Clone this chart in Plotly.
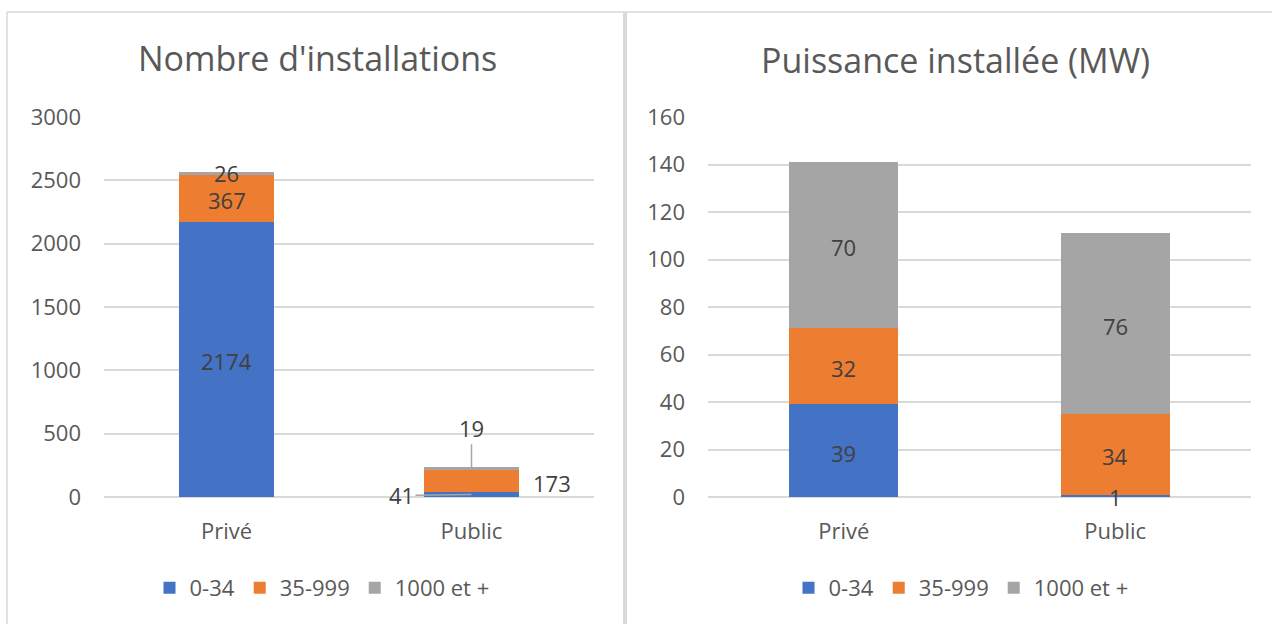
import plotly.graph_objects as go

categories = ["Privé", "Public"]
series = ["0-34", "35-999", "1000 et +"]
colors = ["#4472C4", "#ED7D31", "#A5A5A5"]

# Nombre d'installations
nb_0_34 = [2174, 41]
nb_35_999 = [367, 173]
nb_1000 = [26, 19]

# Puissance installée (MW)
mw_0_34 = [39, 1]
mw_35_999 = [32, 34]
mw_1000 = [70, 76]

left_ticks = [0, 500, 1000, 1500, 2000, 2500, 3000]
right_ticks = [0, 20, 40, 60, 80, 100, 120, 140, 160]

titles = ["Nombre d'installations", "Puissance installée (MW)"]

FONT = "Open Sans"
TXT = "#595959"
LBL = "#404040"
GRID = "#D9D9D9"
W, H = 1272, 624

fig = go.Figure()

left_data = [nb_0_34, nb_35_999, nb_1000]
right_data = [mw_0_34, mw_35_999, mw_1000]

for name, vals, col in zip(series, left_data, colors):
    fig.add_trace(go.Bar(x=categories, y=vals, name=name, marker_color=col,
                         marker_line_width=0, width=0.39, hoverinfo="skip",
                         xaxis="x", yaxis="y", legend="legend"))
for name, vals, col in zip(series, right_data, colors):
    fig.add_trace(go.Bar(x=categories, y=vals, name=name, marker_color=col,
                         marker_line_width=0, width=0.4, hoverinfo="skip",
                         xaxis="x2", yaxis="y2", legend="legend2"))

annotations = []


def seg_mids(data):
    out = []
    for ci in range(len(categories)):
        base = 0
        row = []
        for si in range(len(series)):
            v = data[si][ci]
            row.append(base + v / 2)
            base += v
        out.append(row)
    return out


lf = dict(family=FONT, size=22, color=LBL)

# Left chart labels
lm = seg_mids(left_data)
for si in range(3):
    annotations.append(dict(x=categories[0], y=lm[0][si], xref="x", yref="y",
                            text=str(left_data[si][0]), showarrow=False, font=lf,
                            yshift=0 if si == 2 else -2))
annotations.append(dict(x=categories[1], y=lm[1][0], xref="x", yref="y",
                        text=str(left_data[0][1]), showarrow=True, ax=-70, ay=1,
                        arrowhead=0, arrowwidth=1.5, arrowcolor="#A6A6A6", font=lf))
annotations.append(dict(x=categories[1], y=lm[1][1], xref="x", yref="y",
                        text=str(left_data[1][1]), showarrow=False, xshift=80, yshift=-2,
                        font=lf))
annotations.append(dict(x=categories[1], y=lm[1][2], xref="x", yref="y",
                        text=str(left_data[2][1]), showarrow=True, ax=0, ay=-41,
                        arrowhead=0, arrowwidth=1.5, arrowcolor="#A6A6A6", font=lf))

# Right chart labels
rm = seg_mids(right_data)
for ci in range(2):
    for si in range(3):
        v = right_data[si][ci]
        annotations.append(dict(x=categories[ci], y=rm[ci][si], xref="x2", yref="y2",
                                text=str(v), showarrow=False, font=lf,
                                yshift=-1 if v < 5 else -2))

# Titles
annotations.append(dict(x=317 / W, y=1 - 58 / H, xref="paper", yref="paper",
                        xanchor="center", yanchor="middle",
                        text=titles[0], showarrow=False,
                        font=dict(family=FONT, size=34, color=TXT)))
annotations.append(dict(x=955 / W, y=1 - 60 / H, xref="paper", yref="paper",
                        xanchor="center", yanchor="middle",
                        text=titles[1], showarrow=False,
                        font=dict(family=FONT, size=34, color=TXT)))

shapes = [
    dict(type="line", xref="paper", yref="paper", x0=7 / W, x1=1, y0=1 - 12 / H, y1=1 - 12 / H,
         line=dict(color=GRID, width=1.5)),
    dict(type="line", xref="paper", yref="paper", x0=7 / W, x1=7 / W, y0=0, y1=1 - 12 / H,
         line=dict(color=GRID, width=1.5)),
    dict(type="line", xref="paper", yref="paper", x0=625 / W, x1=625 / W, y0=0, y1=1 - 12 / H,
         line=dict(color=GRID, width=4)),
]

ydom = [1 - 497 / H, 1 - 117 / H]
axfont = dict(family=FONT, size=22, color=TXT)
legfont = dict(family=FONT, size=22, color=TXT)

fig.update_layout(
    width=W, height=H,
    margin=dict(l=0, r=0, t=0, b=0, autoexpand=False),
    paper_bgcolor="white", plot_bgcolor="white",
    barmode="stack",
    font=dict(family=FONT, color=TXT),
    xaxis=dict(domain=[104 / W, 594 / W], anchor="y", showgrid=False, automargin=False,
               showline=False, tickfont=axfont, ticklabelstandoff=19, ticks=""),
    yaxis=dict(domain=ydom, anchor="x", range=[0, 3000], tickvals=left_ticks,
               automargin=False,
               showgrid=True, gridcolor=GRID, gridwidth=1.5, zeroline=True,
               zerolinecolor=GRID, zerolinewidth=1.5, showline=False,
               tickfont=axfont, ticklabelstandoff=22, ticks=""),
    xaxis2=dict(domain=[708 / W, 1251 / W], anchor="y2", showgrid=False, automargin=False,
                showline=False, tickfont=axfont, ticklabelstandoff=19, ticks=""),
    yaxis2=dict(domain=ydom, anchor="x2", range=[0, 160], tickvals=right_ticks,
                automargin=False,
                showgrid=True, gridcolor=GRID, gridwidth=1.5, zeroline=True,
                zerolinecolor=GRID, zerolinewidth=1.5, showline=False,
                tickfont=axfont, ticklabelstandoff=22, ticks=""),
    legend=dict(orientation="h", x=322 / W, xanchor="center", y=1 - 588 / H,
                yanchor="middle", font=legfont,
                traceorder="normal", itemwidth=30, bgcolor="rgba(0,0,0,0)"),
    legend2=dict(orientation="h", x=961 / W, xanchor="center", y=1 - 588 / H,
                 yanchor="middle", font=legfont,
                 traceorder="normal", itemwidth=30, bgcolor="rgba(0,0,0,0)"),
    annotations=annotations,
    shapes=shapes,
    showlegend=True,
)

fig.write_html("out.html", config={"displayModeBar": False},
               post_script="document.body.style.margin='0';document.body.style.overflow='hidden';")
